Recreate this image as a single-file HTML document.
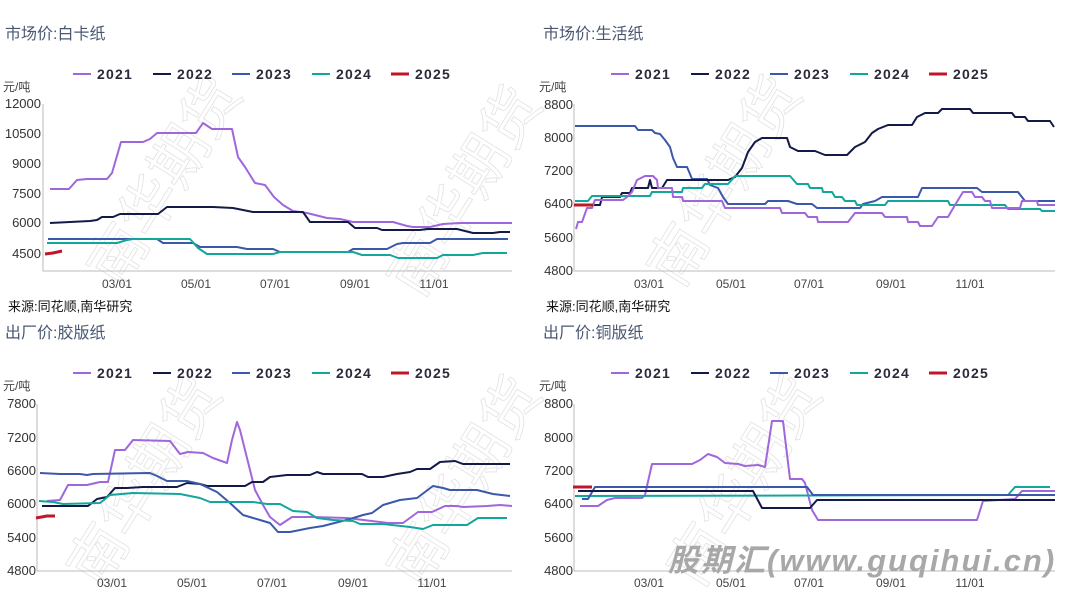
<!DOCTYPE html>
<html><head><meta charset="utf-8"><style>
html,body{margin:0;padding:0;background:#fff;}
svg{display:block;font-family:"Liberation Sans","Noto Sans CJK SC",sans-serif;}
.t{font-size:16px;fill:#4a5872;}
.lg{font-size:14px;font-weight:bold;fill:#2a2a3a;letter-spacing:1.2px;}
.ax{font-size:12px;fill:#444;}
.yl{font-size:13px;fill:#333;text-anchor:end;}
.xl{font-size:12px;fill:#444;text-anchor:middle;}
.src{font-size:13px;fill:#111;}
.wm{font-size:58px;fill:none;stroke:#e2e2e2;stroke-width:0.8;}
polyline{fill:none;stroke-width:2;stroke-linejoin:round;}
.p{stroke:#a066dc}.n{stroke:#131a48}.b{stroke:#3b59aa}.g{stroke:#13a79b}.r{stroke:#c0162a;stroke-width:3}
.axis{stroke:#bbb;stroke-width:1;fill:none}
</style></head><body>
<svg width="1067" height="591" viewBox="0 0 1067 591">
<g>
<text class="wm" transform="translate(120,290) rotate(-58)">南华期货</text>
<text class="wm" transform="translate(420,300) rotate(-58)">南华期货</text>
<text class="wm" transform="translate(680,290) rotate(-58)">南华期货</text>
<text class="wm" transform="translate(100,590) rotate(-58)">南华期货</text>
<text class="wm" transform="translate(420,590) rotate(-58)">南华期货</text>
<text class="wm" transform="translate(700,590) rotate(-58)">南华期货</text>
</g>

<!-- Chart 1 -->
<text class="t" x="5" y="39">市场价:白卡纸</text>
<line x1="73" y1="74" x2="91" y2="74" stroke="#a066dc" stroke-width="2"/><text class="lg" x="97" y="79">2021</text>
<line x1="153" y1="74" x2="171" y2="74" stroke="#131a48" stroke-width="2"/><text class="lg" x="177" y="79">2022</text>
<line x1="232" y1="74" x2="250" y2="74" stroke="#3b59aa" stroke-width="2"/><text class="lg" x="256" y="79">2023</text>
<line x1="312" y1="74" x2="330" y2="74" stroke="#13a79b" stroke-width="2"/><text class="lg" x="336" y="79">2024</text>
<line x1="391" y1="74" x2="409" y2="74" stroke="#c0162a" stroke-width="3"/><text class="lg" x="415" y="79">2025</text>
<text class="ax" x="3" y="91">元/吨</text>
<polyline class="axis" points="43,104 43,271 512,271"/>
<g class="yl"><text x="41" y="108">12000</text><text x="41" y="138">10500</text><text x="41" y="168">9000</text><text x="41" y="198">7500</text><text x="41" y="227">6000</text><text x="41" y="258">4500</text></g>
<g class="xl"><text x="117" y="288">03/01</text><text x="196" y="288">05/01</text><text x="275" y="288">07/01</text><text x="355" y="288">09/01</text><text x="434" y="288">11/01</text></g>
<polyline class="p" points="50,189 69,189 77,180 87,179 107,179 112,173 121,142 143,142 150,139 157,133 196,133 203,123 212,129 232,129 238,157 245,167 255,183 265,185 274,197 283,205 293,211 307,213 327,218 340,219 353,222 393,222 407,226 413,227 430,227 443,224 460,223 512,223"/>
<polyline class="n" points="50,223 90,221 97,220 102,217 113,217 120,214 158,214 167,207 213,207 233,208 253,212 303,212 310,222 348,222 355,228 377,228 382,230 420,230 427,229 457,229 473,233 493,233 500,232 510,232"/>
<polyline class="b" points="48,239 157,239 163,243 193,243 200,247 237,247 247,249 273,249 280,252 348,252 353,249 387,249 397,244 403,243 430,243 437,239 508,239"/>
<polyline class="g" points="47,243 117,243 127,240 133,239 190,239 198,248 207,254 273,254 280,252 353,252 362,255 390,255 398,258 437,258 443,255 473,255 483,253 507,253"/>
<polyline class="r" points="45,254 53,253 62,251"/>
<text class="src" x="8" y="311">来源:同花顺,南华研究</text>

<!-- Chart 2 -->
<text class="t" x="543" y="39">市场价:生活纸</text>
<line x1="611" y1="74" x2="629" y2="74" stroke="#a066dc" stroke-width="2"/><text class="lg" x="635" y="79">2021</text>
<line x1="691" y1="74" x2="709" y2="74" stroke="#131a48" stroke-width="2"/><text class="lg" x="715" y="79">2022</text>
<line x1="770" y1="74" x2="788" y2="74" stroke="#3b59aa" stroke-width="2"/><text class="lg" x="794" y="79">2023</text>
<line x1="850" y1="74" x2="868" y2="74" stroke="#13a79b" stroke-width="2"/><text class="lg" x="874" y="79">2024</text>
<line x1="929" y1="74" x2="947" y2="74" stroke="#c0162a" stroke-width="3"/><text class="lg" x="953" y="79">2025</text>
<text class="ax" x="539" y="91">元/吨</text>
<polyline class="axis" points="574,104 574,271 1055,271"/>
<g class="yl"><text x="573" y="109">8800</text><text x="573" y="142">8000</text><text x="573" y="175">7200</text><text x="573" y="208">6400</text><text x="573" y="242">5600</text><text x="573" y="275">4800</text></g>
<g class="xl"><text x="649" y="288">03/01</text><text x="731" y="288">05/01</text><text x="809" y="288">07/01</text><text x="891" y="288">09/01</text><text x="970" y="288">11/01</text></g>
<polyline class="b" points="575,126 635,126 638,130 652,130 655,133 660,134 665,140 670,147 673,158 677,167 687,167 690,174 692,179 707,179 710,185 718,188 723,197 728,204 765,204 768,201 788,201 797,204 812,204 817,208 860,208 863,204 875,201 882,197 918,197 922,188 977,188 982,192 1018,192 1025,201 1055,201"/>
<polyline class="n" points="593,205 600,205 602,197 620,197 622,193 630,193 632,188 648,188 650,180 652,188 662,188 667,180 728,180 735,177 742,168 748,152 755,142 762,138 787,138 790,147 798,151 815,151 825,155 847,155 855,147 865,142 872,133 878,129 888,125 912,125 917,117 925,113 938,113 942,109 970,109 973,113 1012,113 1015,117 1025,117 1028,121 1050,121 1054,127"/>
<polyline class="g" points="575,201 588,201 592,196 650,196 652,192 682,192 683,188 702,188 705,184 728,184 735,176 790,176 797,184 808,184 810,188 822,188 823,192 832,192 835,197 842,197 845,201 855,201 857,205 885,205 888,201 948,201 950,205 1005,205 1008,209 1040,209 1042,211 1055,211"/>
<polyline class="p" points="576,229 578,222 582,222 587,208 592,208 595,200 623,200 627,197 632,192 637,180 645,176 653,176 657,180 658,188 672,188 673,197 682,197 683,201 722,201 725,208 780,208 782,213 805,213 808,217 817,217 818,222 848,222 855,213 882,213 885,217 907,217 908,222 918,222 920,226 932,226 938,217 948,217 955,205 963,192 972,192 975,197 982,197 985,201 990,201 992,208 1020,208 1022,201 1037,201 1038,205 1055,205"/>
<polyline class="r" points="574,205 593,205"/>
<text class="src" x="546" y="311">来源:同花顺,南华研究</text>

<!-- Chart 3 -->
<text class="t" x="5" y="338">出厂价:胶版纸</text>
<line x1="73" y1="373" x2="91" y2="373" stroke="#a066dc" stroke-width="2"/><text class="lg" x="97" y="378">2021</text>
<line x1="153" y1="373" x2="171" y2="373" stroke="#131a48" stroke-width="2"/><text class="lg" x="177" y="378">2022</text>
<line x1="232" y1="373" x2="250" y2="373" stroke="#3b59aa" stroke-width="2"/><text class="lg" x="256" y="378">2023</text>
<line x1="312" y1="373" x2="330" y2="373" stroke="#13a79b" stroke-width="2"/><text class="lg" x="336" y="378">2024</text>
<line x1="391" y1="373" x2="409" y2="373" stroke="#c0162a" stroke-width="3"/><text class="lg" x="415" y="378">2025</text>
<text class="ax" x="3" y="390">元/吨</text>
<polyline class="axis" points="37,404 37,571 512,571"/>
<g class="yl"><text x="36" y="408">7800</text><text x="36" y="442">7200</text><text x="36" y="475">6600</text><text x="36" y="508">6000</text><text x="36" y="542">5400</text><text x="36" y="575">4800</text></g>
<g class="xl"><text x="112" y="587">03/01</text><text x="192" y="587">05/01</text><text x="272" y="587">07/01</text><text x="353" y="587">09/01</text><text x="432" y="587">11/01</text></g>
<polyline class="p" points="47,501 60,500 68,485 87,485 100,482 108,482 115,450 125,450 133,440 170,441 180,454 188,452 203,453 213,458 227,463 232,440 237,422 240,430 255,490 263,505 270,517 280,525 292,517 313,517 347,518 388,523 403,523 418,512 432,512 445,506 457,506 463,507 487,506 500,505 512,506"/>
<polyline class="n" points="42,506 88,506 97,499 107,497 115,488 127,488 143,487 177,487 187,483 200,484 207,486 245,486 252,482 263,482 270,477 287,475 310,475 317,472 323,474 362,474 368,477 383,477 397,474 410,472 417,469 430,469 440,462 455,461 463,464 510,464"/>
<polyline class="b" points="40,473 60,474 80,474 87,475 93,474 150,473 157,476 167,481 187,481 200,484 217,492 230,503 243,515 260,520 270,523 278,532 290,532 310,528 323,526 350,519 363,515 372,513 383,505 400,500 417,498 433,486 443,488 450,490 477,490 493,494 510,496"/>
<polyline class="g" points="39,501 53,502 63,504 100,503 110,495 133,493 180,494 200,498 210,502 233,502 253,502 267,504 280,504 293,511 307,512 317,518 333,520 353,521 360,524 383,524 410,527 423,529 433,525 467,525 478,518 507,518"/>
<polyline class="r" points="36,518 47,516 55,516"/>

<!-- Chart 4 -->
<text class="t" x="543" y="338">出厂价:铜版纸</text>
<line x1="611" y1="373" x2="629" y2="373" stroke="#a066dc" stroke-width="2"/><text class="lg" x="635" y="378">2021</text>
<line x1="691" y1="373" x2="709" y2="373" stroke="#131a48" stroke-width="2"/><text class="lg" x="715" y="378">2022</text>
<line x1="770" y1="373" x2="788" y2="373" stroke="#3b59aa" stroke-width="2"/><text class="lg" x="794" y="378">2023</text>
<line x1="850" y1="373" x2="868" y2="373" stroke="#13a79b" stroke-width="2"/><text class="lg" x="874" y="378">2024</text>
<line x1="929" y1="373" x2="947" y2="373" stroke="#c0162a" stroke-width="3"/><text class="lg" x="953" y="378">2025</text>
<text class="ax" x="539" y="390">元/吨</text>
<polyline class="axis" points="574,404 574,571 1055,571"/>
<g class="yl"><text x="573" y="408">8800</text><text x="573" y="442">8000</text><text x="573" y="475">7200</text><text x="573" y="508">6400</text><text x="573" y="542">5600</text><text x="573" y="575">4800</text></g>
<g class="xl"><text x="649" y="587">03/01</text><text x="731" y="587">05/01</text><text x="809" y="587">07/01</text><text x="891" y="587">09/01</text><text x="970" y="587">11/01</text></g>
<polyline class="p" points="580,506 598,506 607,500 615,498 642,498 645,495 652,464 692,464 700,460 708,454 717,457 725,463 738,464 745,466 758,465 765,467 772,421 783,421 790,479 802,479 805,483 812,510 818,520 977,520 983,501 1015,499 1022,491 1055,491"/>
<polyline class="g" points="575,496 1008,495 1015,487 1050,487"/>
<polyline class="b" points="582,499 588,499 595,487 807,487 813,495 1055,495"/>
<polyline class="n" points="578,491 753,491 762,508 810,508 817,500 1055,500"/>
<polyline class="r" points="573,487 592,487"/>

<text x="668" y="571" style="font-size:31px;font-weight:bold;font-style:italic;fill:#a8a8a8;letter-spacing:2px">股期汇(www.guqihui.cn)</text>
</svg>
</body></html>
